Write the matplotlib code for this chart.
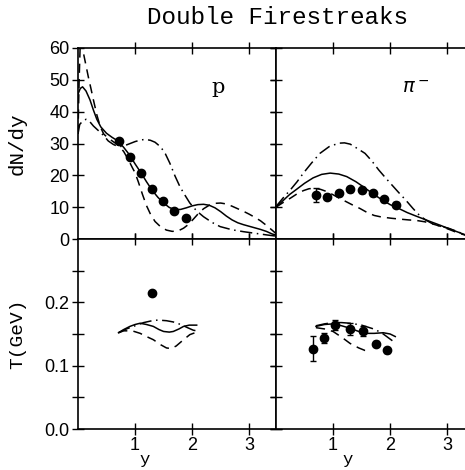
import matplotlib
matplotlib.use("Agg")
import matplotlib.pyplot as plt
from matplotlib.ticker import FixedLocator

# ---- proton dN/dy ----
p_y = [0.0, 0.04, 0.08, 0.14, 0.21, 0.27, 0.33, 0.4, 0.5, 0.6, 0.7, 0.8, 0.9, 1.0, 1.1, 1.2,
       1.3, 1.4, 1.5, 1.6, 1.7, 1.8, 1.9, 2.0, 2.1, 2.2, 2.3, 2.4, 2.5, 2.6, 2.7, 2.8, 2.9,
       3.0, 3.1, 3.2, 3.3, 3.4, 3.47]
p_solid = [45.5, 47.3, 47.8, 46.5, 43.7, 40.5, 37.6, 35.2, 33.2, 31.9, 30.8, 28.8, 26.5, 23.6,
           20.9, 18.0, 15.3, 13.1, 11.3, 9.9, 9.2, 9.3, 9.8, 10.4, 10.8, 10.9, 10.6, 9.8, 8.6,
           7.2, 6.0, 5.1, 4.5, 4.0, 3.5, 3.0, 2.4, 1.6, 1.2]

p_dash_y = [0.0, 0.02, 0.04, 0.07, 0.1, 0.14, 0.18, 0.23, 0.27, 0.33, 0.39, 0.45, 0.52, 0.6,
            0.7, 0.8, 0.88, 0.95, 1.0, 1.06, 1.13, 1.2, 1.27, 1.35, 1.45, 1.55, 1.65, 1.75,
            1.85, 1.93, 2.02, 2.1, 2.2, 2.3, 2.4, 2.5, 2.6, 2.7, 2.8, 2.9, 3.0, 3.1, 3.2,
            3.3, 3.4, 3.47]
p_dash = [33, 50, 62, 62, 58, 54.5, 51, 47, 43.7, 39, 35.3, 33, 31.8, 30.8, 29.5, 27.5, 25,
          22.5, 20.8, 17.8, 14, 10.5, 7.8, 5.5, 3.8, 2.8, 2.4, 2.5, 3.4, 4.5, 6.2, 7.8, 9.5,
          10.6, 11.2, 11.3, 11.0, 10.3, 9.5, 8.7, 7.8, 6.8, 5.7, 4.3, 2.8, 1.7]

p_dd_y = [0.0, 0.03, 0.08, 0.14, 0.2, 0.27, 0.36, 0.45, 0.53, 0.62, 0.71, 0.8, 0.9, 1.0, 1.1,
          1.18, 1.27, 1.35, 1.45, 1.53, 1.61, 1.7, 1.79, 1.88, 1.96, 2.08, 2.2, 2.35, 2.49,
          2.7, 2.9, 3.1, 3.3, 3.47]
p_dd = [33, 36, 37, 37.6, 37, 35.5, 34, 32.5, 30.8, 29.7, 29.0, 29.2, 29.9, 30.6, 31.1, 31.3,
        31.0, 30.4, 28.9, 26.8, 23.8, 19.8, 16.3, 13.6, 11.3, 8.8, 7.0, 5.2, 3.9, 2.9, 2.3,
        1.8, 1.3, 0.9]

p_data_y = [0.71, 0.91, 1.11, 1.30, 1.49, 1.69, 1.89]
p_data = [30.7, 25.9, 20.8, 15.7, 12.0, 8.8, 6.5]

# ---- pi- dN/dy ----
pi_y = [0.0, 0.12, 0.24, 0.36, 0.5, 0.65, 0.8, 0.95, 1.1, 1.24, 1.4, 1.53, 1.7, 1.85, 2.0,
        2.15, 2.3, 2.44, 2.6, 2.73, 2.88, 3.02, 3.17, 3.32, 3.47]
pi_solid = [10.0, 12.0, 14.0, 15.6, 17.5, 19.2, 20.3, 20.7, 20.4, 19.6, 18.0, 16.4, 14.2, 12.4,
            10.8, 9.6, 8.3, 7.3, 6.2, 5.3, 4.3, 3.3, 2.3, 1.3, 0.7]

pi_dash_y = [0.0, 0.12, 0.25, 0.37, 0.48, 0.58, 0.68, 0.78, 0.89, 1.0, 1.1, 1.2, 1.33, 1.47,
             1.6, 1.72, 1.85, 2.03, 2.2, 2.32, 2.47, 2.61, 2.75, 2.9, 3.05, 3.19, 3.32, 3.47]
pi_dash = [10.0, 11.4, 12.8, 14.2, 15.2, 15.8, 15.9, 15.6, 14.9, 13.9, 12.9, 12.0, 10.8, 9.6,
           8.3, 7.4, 6.9, 6.5, 6.2, 6.0, 5.8, 5.4, 4.7, 3.9, 2.9, 1.9, 1.2, 0.7]

pi_dd_y = [0.0, 0.12, 0.25, 0.37, 0.48, 0.62, 0.77, 0.93, 1.1, 1.2, 1.3, 1.42, 1.56, 1.68, 1.8,
           1.92, 2.03, 2.15, 2.27, 2.4, 2.51, 2.62, 2.73, 2.88, 3.02, 3.17, 3.32, 3.47]
pi_dd = [10.2, 12.8, 15.4, 18.0, 20.7, 23.8, 26.9, 29.0, 30.1, 30.2, 29.8, 28.5, 26.9, 24.5,
         21.7, 19.2, 17.0, 14.6, 12.3, 9.6, 7.5, 6.0, 4.9, 4.0, 3.4, 2.4, 1.3, 0.7]

pi_data_y = [0.70, 0.90, 1.10, 1.30, 1.50, 1.70, 1.90, 2.10]
pi_data = [13.8, 13.3, 14.4, 15.6, 15.4, 14.4, 12.5, 10.7]
pi_err = [2.1, 0.8, 0.8, 0.8, 0.8, 0.8, 0.8, 0.8]

# ---- proton temperature ----
tp_solid_y = [0.71, 0.8, 0.91, 1.0, 1.09, 1.2, 1.32, 1.42, 1.5, 1.6, 1.67, 1.77, 1.85, 1.95, 2.08]
tp_solid = [0.152, 0.157, 0.162, 0.165, 0.167, 0.165, 0.162, 0.157, 0.154, 0.153, 0.154,
            0.158, 0.162, 0.164, 0.164]
tp_dash_y = [0.71, 0.8, 0.95, 1.09, 1.2, 1.32, 1.45, 1.55, 1.63, 1.72, 1.85, 1.96, 2.08]
tp_dash = [0.152, 0.155, 0.155, 0.151, 0.146, 0.141, 0.133, 0.128, 0.127, 0.131, 0.141,
           0.149, 0.153]
tp_dd_y = [0.71, 0.85, 1.0, 1.15, 1.3, 1.4, 1.55, 1.67, 1.8, 1.92, 2.02, 2.08]
tp_dd = [0.152, 0.158, 0.163, 0.168, 0.171, 0.172, 0.171, 0.169, 0.165, 0.160, 0.156, 0.155]
tp_data_y = [1.29]
tp_data = [0.214]

# ---- pi- temperature ----
tpi_solid_y = [0.7, 0.85, 1.0, 1.15, 1.3, 1.45, 1.59, 1.72, 1.88, 2.0, 2.09]
tpi_solid = [0.162, 0.165, 0.166, 0.163, 0.159, 0.154, 0.151, 0.151, 0.152, 0.150, 0.146]
tpi_dash_y = [0.7, 0.85, 1.0, 1.15, 1.3, 1.45, 1.56, 1.65]
tpi_dash = [0.160, 0.158, 0.154, 0.145, 0.135, 0.128, 0.124, 0.123]
tpi_dd_y = [0.7, 0.85, 1.0, 1.15, 1.3, 1.5, 1.71, 1.85, 1.94, 2.06]
tpi_dd = [0.163, 0.166, 0.168, 0.168, 0.167, 0.164, 0.158, 0.152, 0.146, 0.138]
tpi_data_y = [0.64, 0.84, 1.04, 1.29, 1.53, 1.75, 1.94]
tpi_data = [0.127, 0.144, 0.164, 0.158, 0.155, 0.135, 0.124]
tpi_err = [0.02, 0.008, 0.008, 0.01, 0.008, 0.004, 0.004]

tick_font = "Liberation Sans"
label_font = "Liberation Mono"
lw = 1.1
dash = (6, 4)
dashdot = (8, 3, 1, 3)


def curvas(ax, xs, ys, estilo):
    for x, y, d in zip(xs, ys, estilo):
        if d is None:
            ax.plot(x, y, color="black", lw=lw)
        else:
            ax.plot(x, y, color="black", lw=lw, dashes=d)


def eixos(ax, ymax, ymaj, ymin=None):
    ax.set_xlim(0, 3.47)
    ax.set_ylim(0, ymax)
    ax.xaxis.set_major_locator(FixedLocator([1, 2, 3]))
    ax.yaxis.set_major_locator(FixedLocator(ymaj))
    if ymin:
        ax.yaxis.set_minor_locator(FixedLocator(ymin))
    ax.tick_params(which="both", direction="inout", length=8, width=1,
                   top=True, right=True, pad=2, labelsize=13)
    for lab in ax.get_xticklabels() + ax.get_yticklabels():
        lab.set_family(tick_font)
    for s in ax.spines.values():
        s.set_linewidth(1.2)


fig = plt.figure(figsize=(4.65, 4.7), dpi=100)
W, H = 465.0, 470.0
ax1 = fig.add_axes([78 / W, (H - 239) / H, 198 / W, 191 / H])
ax2 = fig.add_axes([276 / W, (H - 239) / H, 198 / W, 191 / H])
ax3 = fig.add_axes([78 / W, (H - 429) / H, 198 / W, 190 / H])
ax4 = fig.add_axes([276 / W, (H - 429) / H, 198 / W, 190 / H])

# dN/dy
curvas(ax1, [p_y, p_dash_y, p_dd_y], [p_solid, p_dash, p_dd], [None, dash, dashdot])
ax1.plot(p_data_y, p_data, "o", color="black", ms=6)
curvas(ax2, [pi_y, pi_dash_y, pi_dd_y], [pi_solid, pi_dash, pi_dd], [None, dash, dashdot])
ax2.errorbar(pi_data_y, pi_data, yerr=pi_err, fmt="o", color="black", ms=6,
             capsize=2.5, elinewidth=1)

# temperatura
curvas(ax3, [tp_solid_y, tp_dash_y, tp_dd_y], [tp_solid, tp_dash, tp_dd], [None, dash, dashdot])
ax3.plot(tp_data_y, tp_data, "o", color="black", ms=6)
curvas(ax4, [tpi_solid_y, tpi_dash_y, tpi_dd_y], [tpi_solid, tpi_dash, tpi_dd],
       [None, dash, dashdot])
ax4.errorbar(tpi_data_y, tpi_data, yerr=tpi_err, fmt="o", color="black", ms=6,
             capsize=2.5, elinewidth=1)

for ax in (ax1, ax2):
    eixos(ax, 60, [0, 10, 20, 30, 40, 50, 60])
    ax.tick_params(labelbottom=False)
for ax in (ax3, ax4):
    eixos(ax, 0.3, [0.0, 0.1, 0.2], [0.05, 0.15, 0.25])
    ax.yaxis.set_major_formatter(plt.FormatStrFormatter("%.1f"))
for ax in (ax2, ax4):
    ax.tick_params(labelleft=False)

ax1.text(2.46, 47.5, "p", fontsize=15, family="DejaVu Serif", ha="center", va="center")
ax2.text(2.44, 47.5, r"$\pi^-$", fontsize=14, ha="center", va="center")

ax1.set_ylabel("dN/dy", fontsize=15, family=label_font)
ax1.yaxis.set_label_coords(-0.26, 0.5)
ax3.set_ylabel("T(GeV)", fontsize=14, family=label_font)
ax3.yaxis.set_label_coords(-0.26, 0.5)
ax3.set_xlabel("y", fontsize=12.5, family=label_font)
ax3.xaxis.set_label_coords(0.335, -0.12)
ax4.set_xlabel("y", fontsize=12.5, family=label_font)
ax4.xaxis.set_label_coords(0.36, -0.12)

fig.text(277 / W, 1 - 18 / H, "Double Firestreaks", fontsize=17.5, family=label_font,
         ha="center", va="center")

fig.savefig("out.png", dpi=100)
